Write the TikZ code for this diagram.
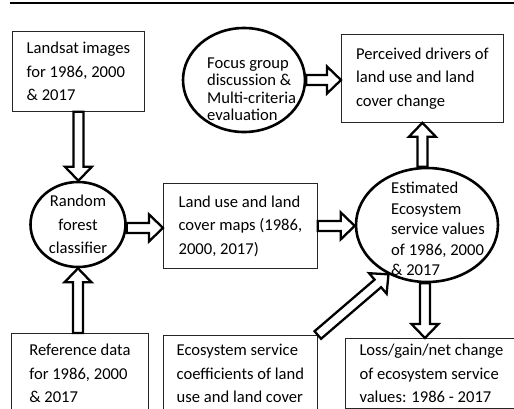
\documentclass[tikz,border=0pt]{standalone}
\usepackage{fontspec}
\setmainfont{Carlito}
\usepackage{tikz}
\usetikzlibrary{calc,positioning,shapes.geometric}
\tikzset{every node/.append style={font=\fontsize{16.6}{23.5}\selectfont}}
\tikzset{
  box/.style={draw=black!85,line width=0.8pt,rectangle,anchor=north west,inner sep=0pt,align=left},
  oval/.style={draw,ellipse,line width=2.6pt,inner sep=0pt,align=center},
  ovaltext/.style={anchor=west,inner sep=0pt,align=left},
  hollowarrow/.style={draw,line width=2.3pt,line join=miter}
}
\newcommand{\shafthw}{5pt}
\newcommand{\headhw}{13.5pt}
\newcommand{\headlen}{14pt}
\newcommand{\blockarrow}[2]{%
  \coordinate (ba) at (#1);
  \coordinate (bb) at (#2);
  \coordinate (bh) at ($(bb)!\headlen!(ba)$);
  \draw[hollowarrow] ($(ba)!\shafthw!90:(bb)$) -- ($(bh)!\shafthw!-90:(ba)$) -- ($(bh)!\headhw!-90:(ba)$) -- (bb)
    -- ($(bh)!\headhw!90:(ba)$) -- ($(bh)!\shafthw!90:(ba)$) -- ($(ba)!\shafthw!-90:(bb)$) -- cycle;
}
\begin{document}
\begin{tikzpicture}[x=1pt,y=-1pt]
      \useasboundingbox (0,0) rectangle (514,408);
      \clip (0,0) rectangle (514,408);
      \draw[line width=1.2pt] (10,3) -- (514,3);
      % boxes
      \node[box,minimum width=132pt,minimum height=80pt] at (12,31) (landsat) {Landsat images\\for 1986, 2000\\\& 2017};
      \node[box,minimum width=162pt,minimum height=88pt] at (341,34) (perc) {Perceived drivers of\\land use and land\\cover change};
      \node[box,minimum width=154pt,minimum height=85pt] at (163,183) (landuse) {Land use and land\\cover maps (1986,\\2000, 2017)};
      \node[box,minimum width=137pt,minimum height=80pt] at (11,333) (ref) {Reference data\\for 1986, 2000\\\& 2017};
      \node[box,minimum width=154pt,minimum height=76pt] at (163,335) (coef) {Ecosystem service\\coefficients of land\\use and land cover};
      \node[box,minimum width=172pt,minimum height=70pt] at (345,338) (loss) {Loss/gain/net change\\of ecosystem service\\values: 1986 - 2017};
      % ellipses
      \node[oval,minimum width=122pt,minimum height=104pt] at (244,80) (focus) {};
      \node[ovaltext,font=\fontsize{16.6}{17.5}\selectfont] at (207,89) (focustext) {Focus group\\discussion \&\\Multi-criteria\\evaluation};
      \node[oval,minimum width=95pt,minimum height=85pt] at (78,224.5) (rf) {Random\\forest\\classifier};
      \node[oval,minimum width=142pt,minimum height=114pt] at (427,225) (est) {};
      \node[ovaltext,font=\fontsize{16.6}{20.5}\selectfont] at (391,229) (esttext) {Estimated\\Ecosystem\\service values\\of 1986, 2000\\\& 2017};
      % arrows
      \blockarrow{landsat.south}{landsat.south |- rf.north}
      \blockarrow{rf.south |- ref.north}{rf.south}
      \blockarrow{rf.-4}{rf.-4 -| landuse.west}
      \blockarrow{landuse.east}{landuse.east -| est.west}
      \blockarrow{focus.east}{focus.east -| perc.west}
      \blockarrow{perc.south |- est.north}{perc.south}
      \blockarrow{est.-92}{est.-92 |- loss.north}
      \blockarrow{coef.north east}{est.232}
\end{tikzpicture}
\end{document}
